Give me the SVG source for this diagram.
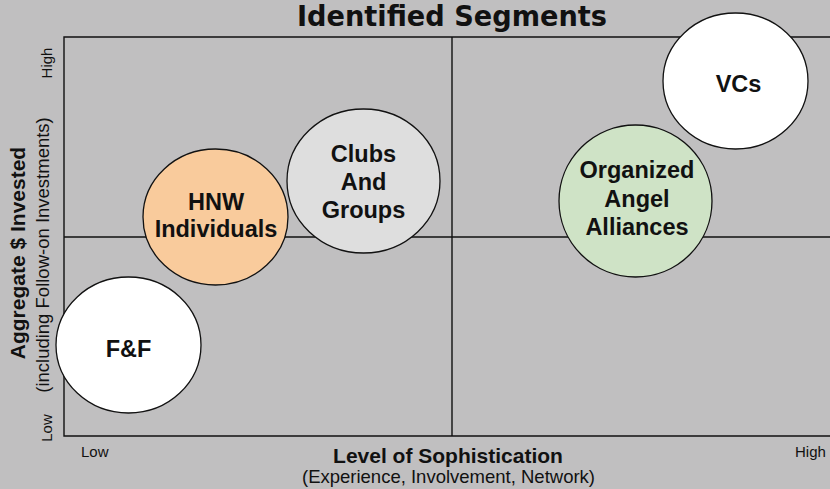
<svg xmlns="http://www.w3.org/2000/svg" width="830" height="489" viewBox="0 0 830 489">
  <style>
    .bg { fill: #c0bfc0; }
    .axis { fill: none; stroke: #111; stroke-width: 1.4; }
    .bubble { stroke: #111; stroke-width: 1.3; }
    .label { font-family: "Liberation Sans", Arial, sans-serif; font-weight: bold; font-size: 23.5px; fill: #111; text-anchor: middle; }
    .tick { font-family: "Liberation Sans", Arial, sans-serif; font-size: 15px; fill: #111; }
    .ttl { font-family: "Liberation Sans", Arial, sans-serif; font-weight: bold; font-size: 21px; fill: #111; text-anchor: middle; }
    .sub { font-family: "Liberation Sans", Arial, sans-serif; font-size: 18.5px; fill: #111; text-anchor: middle; }
    .title { font-family: "Liberation Sans Narrow", "DejaVu Sans Condensed", "Liberation Sans", sans-serif; font-weight: bold; font-size: 27.5px; fill: #111; text-anchor: middle; }
  </style>

  <rect class="bg" x="0" y="0" width="830" height="489"/>

  <text class="title" x="452" y="25.5" textLength="310" lengthAdjust="spacingAndGlyphs">Identified Segments</text>

  <!-- quadrant frame and dividers -->
  <g id="axes">
    <path class="axis" d="M840,37 H64 V436 H840"/>
    <line class="axis" x1="452" y1="37" x2="452" y2="436"/>
    <line class="axis" x1="64" y1="237" x2="840" y2="237"/>
  </g>

  <!-- axis captions -->
  <g id="x-axis-labels">
    <text class="tick" x="81" y="457">Low</text>
    <text class="tick" x="795" y="457">High</text>
    <text class="ttl" x="448" y="463">Level of Sophistication</text>
    <text class="sub" x="448.5" y="483">(Experience, Involvement, Network)</text>
  </g>
  <g id="y-axis-labels">
    <text class="tick" transform="translate(52,63) rotate(-90)" text-anchor="middle">High</text>
    <text class="tick" transform="translate(52,428) rotate(-90)" text-anchor="middle">Low</text>
    <text class="ttl" transform="translate(25,253) rotate(-90)">Aggregate $ Invested</text>
    <text class="sub" transform="translate(49,255) rotate(-90)">(including Follow-on Investments)</text>
  </g>

  <!-- investor segments -->
  <g id="segments">
    <g id="node-vcs">
      <ellipse class="bubble" cx="735.5" cy="81" rx="72.5" ry="68" fill="#ffffff"/>
      <text class="label" x="738.5" y="92">VCs</text>
    </g>
    <g id="node-alliances">
      <ellipse class="bubble" cx="635.5" cy="201" rx="76.5" ry="76" fill="#cfe3c6"/>
      <text class="label" x="637" y="178">Organized</text>
      <text class="label" x="637" y="207">Angel</text>
      <text class="label" x="637" y="235">Alliances</text>
    </g>
    <g id="node-clubs">
      <ellipse class="bubble" cx="363.5" cy="181" rx="76.5" ry="72" fill="#dedede"/>
      <text class="label" x="363.5" y="162">Clubs</text>
      <text class="label" x="363.5" y="190">And</text>
      <text class="label" x="363.5" y="218">Groups</text>
    </g>
    <g id="node-hnw">
      <ellipse class="bubble" cx="215.5" cy="217" rx="72.5" ry="68" fill="#f9cb9c"/>
      <text class="label" x="216" y="210">HNW</text>
      <text class="label" x="216" y="237">Individuals</text>
    </g>
    <g id="node-ff">
      <ellipse class="bubble" cx="128.5" cy="345" rx="72.5" ry="68" fill="#ffffff"/>
      <text class="label" x="128.5" y="357">F&amp;F</text>
    </g>
  </g>
</svg>
